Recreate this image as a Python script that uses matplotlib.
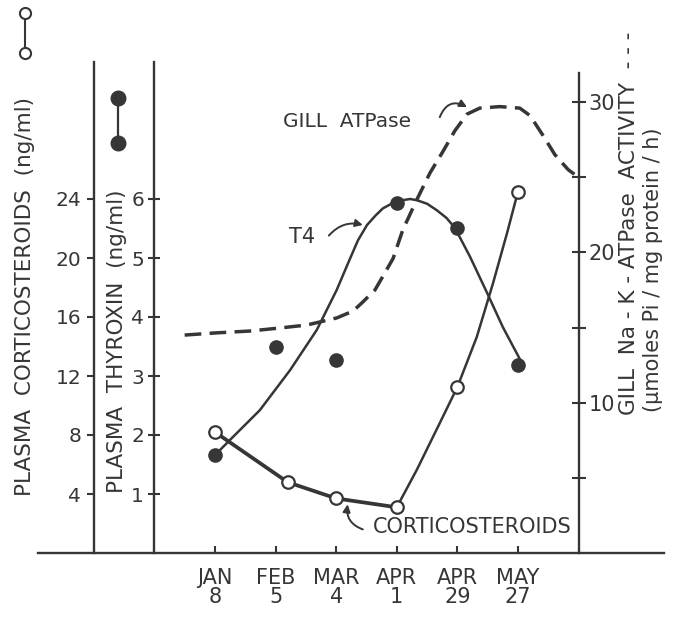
import matplotlib
matplotlib.use('Agg')
import matplotlib.pyplot as plt
from matplotlib.lines import Line2D

plt.rcParams['font.family'] = ['DejaVu Sans']
plt.rcParams['lines.scale_dashes'] = False

INK = '#363636'

# ---------------- data ----------------
date_labels = ['JAN\n8', 'FEB\n5', 'MAR\n4', 'APR\n1', 'APR\n29', 'MAY\n27']
date_pos = [0, 1, 2, 3, 4, 5]

# plasma thyroxin (ng/ml), filled circles
t4_x = [0, 1, 2, 3, 4, 5]
t4_vals = [1.66, 3.49, 3.27, 5.93, 5.51, 3.19]

# hand-drawn T4 curve
t4_curve_x = [0.03, 0.30, 0.74, 1.24, 1.68, 2.01, 2.20, 2.36, 2.51, 2.65,
              2.77, 2.93, 3.10, 3.22, 3.33, 3.50, 3.66, 3.82, 3.96, 4.21,
              4.49, 4.75, 5.05]
t4_curve_y = [1.69, 1.97, 2.42, 3.10, 3.78, 4.46, 4.92, 5.30, 5.56, 5.72,
              5.84, 5.93, 5.98, 6.00, 5.98, 5.92, 5.81, 5.68, 5.51, 5.02,
              4.41, 3.83, 3.25]

# plasma corticosteroids (ng/ml), open circles
cort_x = [0, 1.2, 2, 3, 4, 5]
cort_vals = [8.2, 4.8, 3.7, 3.1, 11.25, 24.5]

# hand-drawn rising part of the corticosteroid curve (APR 1 -> MAY 27)
cort_curve_x = [3.0, 3.33, 3.71, 4.0, 4.32, 4.59, 4.82, 5.0]
cort_curve_y = [3.1, 5.63, 8.81, 11.25, 14.64, 18.31, 21.69, 24.5]

# gill Na-K-ATPase activity (umoles Pi/mg protein/h), dashed curve
atp_x = [-0.50, 0.0, 0.58, 1.07, 1.52, 2.01, 2.28, 2.44, 2.64, 2.77, 2.94,
         3.10, 3.33, 3.55, 3.76, 3.96, 4.16, 4.37, 4.70, 5.03, 5.20, 5.41,
         5.61, 5.83, 6.0]
atp_y = [14.5, 14.64, 14.77, 14.97, 15.17, 15.64, 16.1, 16.7, 17.5, 18.4,
         19.6, 21.5, 23.5, 25.3, 26.7, 28.1, 29.2, 29.6, 29.7, 29.6, 29.1,
         27.8, 26.5, 25.5, 25.0]

thy_ticks = [1, 2, 3, 4, 5, 6]
cort_ticks = [4, 8, 12, 16, 20, 24]
atp_major = [10, 20, 30]
atp_minor = [5, 15, 25]

# ---------------- figure ----------------
W, H = 673, 618
fig = plt.figure(figsize=(W / 100, H / 100), dpi=100)
fig.patch.set_facecolor('white')


def fx(px):
    return px / W


def fy(py):
    return 1 - py / H


ax = fig.add_axes([fx(38), fy(553), fx(664) - fx(38), fy(62) - fy(553)])
ax.set_xlim(-2.92, 7.41)
ax.set_ylim(0, 491 / 59)
ax.patch.set_alpha(0)

ax2 = ax.twinx()
ax2.set_ylim(0, 491 / 59 * 4)
ax3 = ax.twinx()
ax3.set_ylim(0, 491 / 15.03)

for a in (ax, ax2, ax3):
    for s in a.spines.values():
        s.set_visible(False)
        s.set_color(INK)
        s.set_linewidth(1.7)

# bottom baseline + date ticks
ax.spines['bottom'].set_visible(True)
ax.set_xticks(date_pos, date_labels)
ax.tick_params(axis='x', direction='in', length=5, width=1.5, pad=11,
               labelsize=15, colors=INK)
for lab in ax.get_xticklabels():
    lab.set_linespacing(0.95)

# thyroxin axis
ax.spines['left'].set_visible(True)
ax.spines['left'].set_position(('data', -1))
ax.yaxis.tick_left()
ax.set_yticks(thy_ticks)
ax.tick_params(axis='y', direction='inout', length=9, width=1.5, pad=3,
               labelsize=14.5, colors=INK)

# corticosteroid axis
ax2.spines['left'].set_visible(True)
ax2.spines['left'].set_position(('data', -2))
ax2.yaxis.tick_left()
ax2.set_yticks(cort_ticks)
ax2.tick_params(axis='y', direction='out', length=5, width=1.5, pad=4,
                labelsize=14.5, colors=INK)

# ATPase axis
ax3.spines['right'].set_visible(True)
ax3.spines['right'].set_position(('data', 6))
ax3.spines['right'].set_bounds(0, 31.94)
ax3.yaxis.tick_right()
ax3.set_yticks(atp_major)
ax3.set_yticks(atp_minor, minor=True)
ax3.tick_params(axis='y', which='both', direction='inout', length=10,
                width=1.5, pad=2, labelsize=15, colors=INK)

# ---------------- series ----------------
ax3.plot(atp_x, atp_y, color=INK, lw=2.5, dashes=(12, 6), solid_capstyle='butt',
         dash_capstyle='butt', zorder=2)

ax.plot(t4_curve_x, t4_curve_y, color=INK, lw=1.8, zorder=3,
        solid_joinstyle='round')
ax.plot(t4_x, t4_vals, ls='none', marker='o', ms=9.5, mfc=INK, mec=INK,
        zorder=5)

ax2.plot(cort_x[:4], cort_vals[:4], color=INK, lw=2.7, zorder=3,
         solid_joinstyle='round')
ax2.plot(cort_curve_x, cort_curve_y, color=INK, lw=1.8, zorder=3,
         solid_joinstyle='round')
ax2.plot(cort_x, cort_vals, ls='none', marker='o', ms=9, mfc='white',
         mec=INK, mew=1.6, zorder=6)

# ---------------- annotations ----------------
arrow_kw = dict(arrowstyle='-|>', color=INK, lw=1.4, mutation_scale=11,
                shrinkA=0, shrinkB=0)
ax3.annotate('', xy=(4.16, 29.67), xytext=(3.71, 29.0),
             arrowprops=dict(connectionstyle='arc3,rad=-0.55', **arrow_kw))
ax3.text(1.12, 28.68, 'GILL  ATPase', ha='left', va='center', fontsize=14.5,
         color=INK)

ax.annotate('', xy=(2.44, 5.56), xytext=(1.88, 5.38),
            arrowprops=dict(connectionstyle='arc3,rad=-0.3', **arrow_kw))
ax.text(1.22, 5.36, 'T4', ha='left', va='center', fontsize=15, color=INK)

ax2.annotate('', xy=(2.19, 3.3), xytext=(2.44, 1.6),
             arrowprops=dict(connectionstyle='arc3,rad=-0.4', **arrow_kw))
ax2.text(2.60, 1.76, 'CORTICOSTEROIDS', ha='left', va='center', fontsize=15,
         color=INK)

# ---------------- axis titles ----------------
fig.text(fx(25), fy(297), 'PLASMA  CORTICOSTEROIDS  (ng/ml)', rotation=90,
         ha='center', va='center', fontsize=15.5, color=INK)
fig.text(fx(117), fy(341), 'PLASMA  THYROXIN  (ng/ml)', rotation=90,
         ha='center', va='center', fontsize=15.5, color=INK)
fig.text(fx(629), fy(223), 'GILL  Na - K - ATPase  ACTIVITY  - - -',
         rotation=90, ha='center', va='center', fontsize=15.5, color=INK)
fig.text(fx(653), fy(270), '(\u00b5moles Pi / mg protein / h)', rotation=90,
         ha='center', va='center', fontsize=15, color=INK)

# legend keys
fig.add_artist(Line2D([fx(25), fx(25)], [fy(13), fy(53)],
                      transform=fig.transFigure, color=INK, lw=1.5,
                      marker='o', ms=8, mfc='white', mec=INK, mew=1.5))
fig.add_artist(Line2D([fx(118), fx(118)], [fy(98), fy(143)],
                      transform=fig.transFigure, color=INK, lw=1.6,
                      marker='o', ms=10.5, mfc=INK, mec=INK))

fig.savefig('out.png', dpi=100, facecolor='white')
